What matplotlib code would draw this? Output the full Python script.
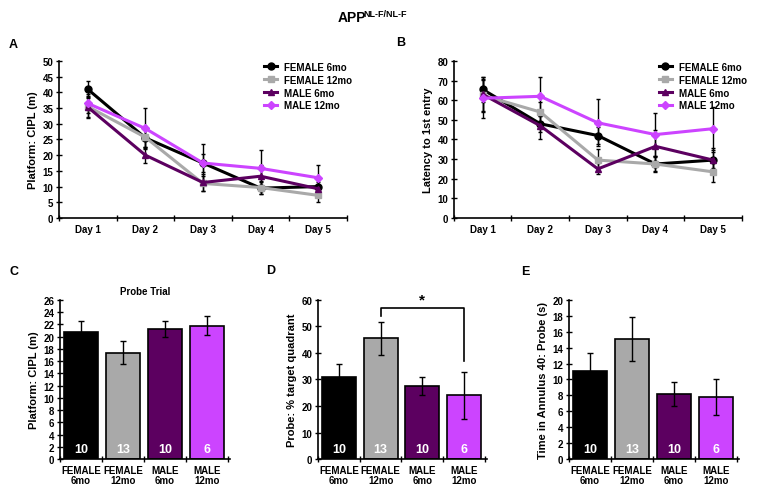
import numpy as np
import matplotlib
matplotlib.use('Agg')
import matplotlib.pyplot as plt
from matplotlib.transforms import blended_transform_factory

plt.rcParams['font.family'] = ['Liberation Sans', 'DejaVu Sans']
plt.rcParams['font.weight'] = 'bold'

# --- data ---
groups = ['FEMALE 6mo', 'FEMALE 12mo', 'MALE 6mo', 'MALE 12mo']
bar_labels = ['FEMALE\n6mo', 'FEMALE\n12mo', 'MALE\n6mo', 'MALE\n12mo']
n_mice = [10, 13, 10, 6]
days = ['Day 1', 'Day 2', 'Day 3', 'Day 4', 'Day 5']

colors = ['#000000', '#a9a9a9', '#5c0060', '#cc44ff']
markers = ['o', 's', '^', 'D']

# panel A: platform CIPL (m)
cipl_mean = [
    [41.0, 25.5, 17.5, 9.5, 10.0],
    [35.5, 25.7, 11.0, 9.7, 7.2],
    [35.3, 20.0, 11.3, 13.3, 9.3],
    [36.5, 28.5, 17.5, 15.8, 12.8],
]
cipl_err = [
    [2.7, 3.0, 3.0, 2.0, 2.0],
    [3.5, 3.5, 2.5, 2.0, 2.2],
    [3.2, 2.5, 2.8, 3.5, 2.0],
    [3.0, 6.5, 6.2, 6.0, 4.0],
]

# panel B: latency to 1st entry
lat_mean = [
    [65.5, 48.0, 42.0, 27.5, 29.5],
    [62.5, 54.0, 29.5, 27.5, 23.5],
    [63.0, 47.0, 25.0, 36.5, 29.5],
    [61.0, 62.0, 48.5, 42.5, 45.5],
]
lat_err = [
    [6.5, 4.0, 4.5, 3.5, 4.0],
    [8.0, 5.0, 5.5, 4.0, 5.0],
    [9.0, 7.0, 2.8, 8.5, 6.0],
    [10.0, 10.0, 12.0, 11.0, 11.0],
]

# panels C-E: probe trial
probe_cipl = [20.8, 17.4, 21.3, 21.8]
probe_cipl_err = [1.7, 1.9, 1.3, 1.6]
quadrant = [30.8, 45.5, 27.5, 24.0]
quadrant_err = [5.2, 6.2, 3.4, 9.0]
annulus = [11.1, 15.1, 8.2, 7.8]
annulus_err = [2.2, 2.8, 1.5, 2.3]

fig = plt.figure(figsize=(7.59, 4.85), dpi=100)


def style_axes(ax):
    for s in ['top', 'right']:
        ax.spines[s].set_visible(False)
    for s in ['left', 'bottom']:
        ax.spines[s].set_linewidth(1.2)
    ax.tick_params(axis='y', direction='inout', length=4, width=1, labelsize=7, pad=2)
    ax.tick_params(axis='x', which='major', length=0, labelsize=7, pad=4)
    ax.tick_params(axis='x', which='minor', direction='inout', length=4, width=1)


def line_panel(rect, means, errs, ylim, ystep, ylabel, letter, letter_pos):
    ax = fig.add_axes(rect)
    x = np.arange(1, len(days) + 1)
    for i, g in enumerate(groups):
        ax.errorbar(x, means[i], yerr=errs[i], fmt='none', ecolor='black',
                    elinewidth=1, capsize=1.5, capthick=1, zorder=1)
        ax.plot(x, means[i], color=colors[i], marker=markers[i], lw=2.2,
                ms=5 if markers[i] != 'D' else 4.5, label=g, zorder=2)
    ax.set_xlim(0.5, 5.5)
    ax.set_ylim(*ylim)
    ax.set_yticks(np.arange(ylim[0], ylim[1] + 0.1, ystep))
    ax.set_xticks(x)
    ax.set_xticklabels(days)
    ax.set_xticks(np.arange(0.5, 5.6, 1), minor=True)
    ax.set_ylabel(ylabel, fontsize=8, fontweight='bold', labelpad=3)
    style_axes(ax)
    ax.legend(loc='upper right', bbox_to_anchor=(1.03, 1.02), frameon=False,
              fontsize=7, handlelength=1.3, handletextpad=0.7,
              labelspacing=0.3, borderaxespad=0)
    fig.text(letter_pos[0], letter_pos[1], letter, fontsize=9, fontweight='bold',
             ha='left', va='center')
    return ax


def bar_panel(rect, vals, errs, ylim, ystep, ylabel, letter, letter_pos):
    ax = fig.add_axes(rect)
    x = np.arange(len(groups))
    ax.bar(x, vals, width=0.82, color=colors, edgecolor='black', linewidth=1.2,
           yerr=errs, error_kw=dict(ecolor='black', elinewidth=1, capsize=2, capthick=1),
           zorder=2)
    trans = blended_transform_factory(ax.transData, ax.transAxes)
    for xi, n in zip(x, n_mice):
        ax.text(xi, 0.065, str(n), transform=trans, color='white', fontsize=9,
                fontweight='bold', ha='center', va='center', zorder=3)
    ax.set_xlim(-0.5, 3.55)
    ax.set_ylim(*ylim)
    ax.set_yticks(np.arange(ylim[0], ylim[1] + 0.1, ystep))
    ax.set_xticks(x)
    ax.set_xticklabels(bar_labels, linespacing=1.1)
    ax.set_xticks(np.arange(-0.5, 3.6, 1), minor=True)
    ax.set_ylabel(ylabel, fontsize=8, fontweight='bold', labelpad=3)
    style_axes(ax)
    fig.text(letter_pos[0], letter_pos[1], letter, fontsize=9, fontweight='bold',
             ha='left', va='center')
    return ax


line_panel([0.0777, 0.5485, 0.3794, 0.3237], cipl_mean, cipl_err, (0, 50), 5,
           'Platform: CIPL (m)', 'A', (0.012, 0.907))
line_panel([0.598, 0.5485, 0.3794, 0.3237], lat_mean, lat_err, (0, 80), 10,
           'Latency to 1st entry', 'B', (0.522, 0.911))

axC = bar_panel([0.079, 0.0515, 0.224, 0.328], probe_cipl, probe_cipl_err, (0, 26), 2,
                'Platform: CIPL (m)', 'C', (0.012, 0.439))
axC.set_title('Probe Trial', fontsize=7, fontweight='bold', pad=4)

axD = bar_panel([0.419, 0.0515, 0.2227, 0.328], quadrant, quadrant_err, (0, 60), 10,
                'Probe: % target quadrant', 'D', (0.351, 0.441))
axD.plot([1, 1, 3, 3], [53.9, 57, 57, 37], color='black', lw=1.2, clip_on=False)
axD.text(2, 57.6, '*', fontsize=11, fontweight='bold', ha='center', va='bottom')

bar_panel([0.7497, 0.0515, 0.224, 0.328], annulus, annulus_err, (0, 20), 2,
          'Time in Annulus 40: Probe (s)', 'E', (0.686, 0.439))

# figure title with superscript
t = fig.text(0.4455, 0.978, 'APP', fontsize=10, fontweight='bold', ha='left', va='top')
plt.annotate('NL-F/NL-F', xy=(1, 1), xycoords=t, xytext=(-2.5, 0.5),
             textcoords='offset points', fontsize=6.5, fontweight='bold',
             ha='left', va='top', annotation_clip=False)

fig.savefig('out.png', dpi=100)
